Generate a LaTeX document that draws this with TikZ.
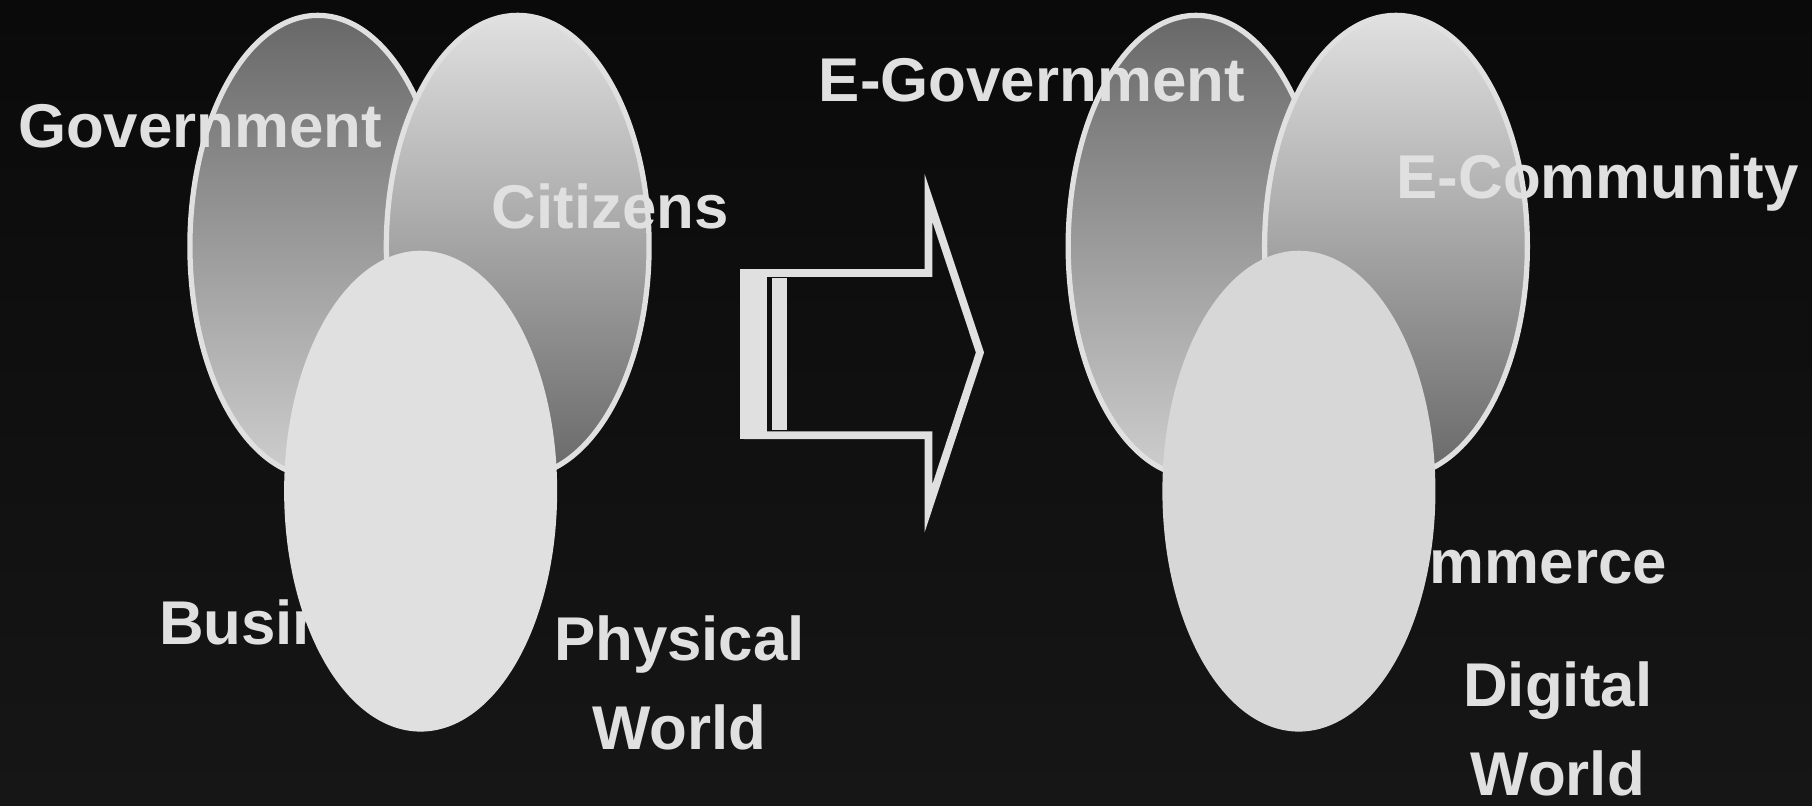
\documentclass[tikz,border=0pt]{standalone}
\usepackage{fontspec}
\setmainfont{Liberation Sans}
\usepackage{xcolor}
\usepackage{tikz}
\usetikzlibrary{shapes.geometric}
\definecolor{bgtop}{RGB}{10,10,10}
\definecolor{bgbot}{RGB}{22,22,22}
\definecolor{pale}{RGB}{224,224,224}
\definecolor{slate}{RGB}{104,104,104}
\tikzset{
  sphere/.style={ellipse, draw=pale, line width=1.5pt, inner sep=0pt, minimum height=4.62cm},
  govsphere/.style={sphere, minimum width=2.56cm, top color=slate, bottom color=pale!92!black},
  citsphere/.style={sphere, minimum width=2.63cm, top color=pale, bottom color=slate},
  bussphere/.style={sphere, minimum width=2.68cm, minimum height=4.76cm},
  lbl/.style={font=\bfseries\fontsize{17.6}{25.3}\selectfont, text=pale, inner sep=0pt},
  outline/.style={draw=pale, line width=2.2pt, line join=miter}
}

\begin{document}
\begin{tikzpicture}[x=0.01156cm, y=-0.01156cm]
    \fill[top color=bgtop, bottom color=bgbot] (0,0) rectangle (1568,697);
    \useasboundingbox (0,0) rectangle (1568,697);
    % these two sit under the front ovals
    \node[lbl, anchor=base west] (busi) at (137,558) {Business};
    \node[lbl, anchor=base east] (ecom) at (1443,505) {E-Commerce};
    \foreach \g/\dx/\fc in {p/0/pale, d/760/pale!96!black} {
      \node[govsphere] (gov\g) at (275+\dx,213) {};
      \node[citsphere] (cit\g) at (448+\dx,213) {};
      \node[bussphere, draw=\fc, fill=\fc] (bus\g) at (364+\dx,425) {};
    }
    % block arrow
    \draw[outline] (644,236.2) -- (803.4,236.2) -- (803.4,171) -- (848,305)
      -- (803.4,440) -- (803.4,376.6) -- (644,376.6);
    \fill[pale] (640.4,232.8) rectangle (663.7,380);
    \fill[pale] (668,240.6) rectangle (681,372);
    \node[lbl, anchor=base west] (govt) at (15,128) {Government};
    \node[lbl, anchor=base west] (citz) at (425,198) {Citizens};
    \node[lbl, align=center] (phys) at (588,591) {Physical\\World};
    \node[lbl, anchor=base west] (egov) at (708,88) {E-Government};
    \node[lbl, anchor=base west] (ecmty) at (1208,172) {E-Community};
    \node[lbl, align=center] (digi) at (1348,631) {Digital\\World};
  \end{tikzpicture}
\end{document}
